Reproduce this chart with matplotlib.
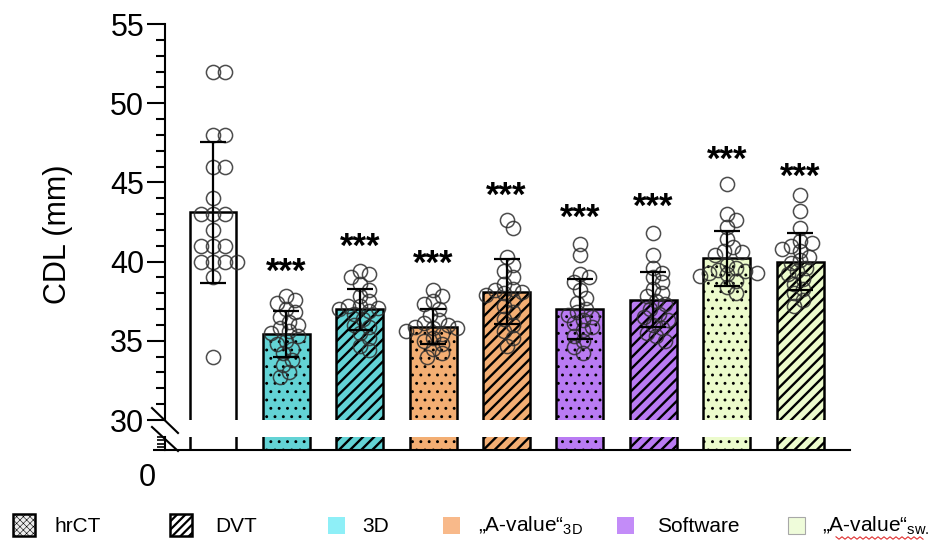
import numpy as np
import matplotlib
matplotlib.use('Agg')
import matplotlib.pyplot as plt
from matplotlib.patches import Rectangle
from matplotlib.lines import Line2D

plt.rcParams['font.family'] = ['Liberation Sans', 'DejaVu Sans']
plt.rcParams['mathtext.fontset'] = 'custom'
plt.rcParams['mathtext.rm'] = 'Liberation Sans'

# ---------------- data ----------------
groups = ['hrCT', '3D hrCT', '3D DVT', 'A3D hrCT', 'A3D DVT',
          'SW hrCT', 'SW DVT', 'Asw hrCT', 'Asw DVT']
means = [43.1, 35.4, 37.0, 35.9, 38.1, 37.0, 37.6, 40.2, 40.0]
sds = [4.45, 1.45, 1.3, 1.1, 2.05, 1.9, 1.75, 1.75, 1.8]
points = [
    [52, 52, 48, 48, 46, 46, 44, 43, 43, 43, 42, 41, 41, 41, 40, 40, 40, 40, 39, 34],
    [37.8, 37.6, 37.4, 37.0, 36.8, 36.5, 36.2, 36.0, 35.8, 35.6, 35.5, 35.3, 35.0, 34.8, 34.5, 34.2, 33.8, 33.5, 33.0, 32.7],
    [39.4, 39.2, 39.0, 38.6, 38.2, 37.8, 37.5, 37.2, 37.2, 37.1, 37.0, 36.9, 36.7, 36.4, 36.0, 35.9, 35.5, 35.2, 34.7, 34.4],
    [38.2, 37.8, 37.5, 37.3, 37.0, 36.6, 36.3, 36.1, 36.0, 35.9, 35.8, 35.8, 35.6, 35.4, 35.2, 35.0, 34.8, 34.5, 34.2, 34.0],
    [42.6, 42.1, 40.3, 39.8, 39.4, 39.0, 38.6, 38.3, 38.2, 38.1, 38.0, 37.9, 37.6, 37.2, 36.8, 36.4, 36.0, 35.6, 35.2, 34.7],
    [41.1, 40.4, 39.2, 39.0, 38.7, 38.2, 37.7, 37.4, 37.0, 36.8, 36.6, 36.5, 36.3, 36.1, 35.9, 35.7, 35.3, 35.0, 34.6, 34.2],
    [41.8, 40.4, 39.6, 39.3, 39.0, 38.7, 38.3, 38.0, 37.8, 37.5, 37.3, 37.0, 36.7, 36.5, 36.3, 36.0, 35.8, 35.5, 35.3, 35.0],
    [44.9, 43.0, 42.6, 42.2, 41.4, 40.9, 40.7, 40.6, 40.4, 39.8, 39.6, 39.5, 39.4, 39.3, 39.3, 39.2, 39.1, 38.8, 38.4, 38.0],
    [44.2, 43.2, 42.1, 41.3, 41.2, 41.0, 40.8, 40.7, 40.3, 40.1, 39.9, 39.6, 39.4, 39.2, 38.9, 38.6, 38.3, 38.0, 37.6, 37.2],
]
stars = ['', '***', '***', '***', '***', '***', '***', '***', '***']
star_y = [0, 39.3, 40.9, 39.8, 44.1, 42.75, 43.4, 46.4, 45.3]
yticks_major = [30, 35, 40, 45, 50, 55]
legend_labels = ['hrCT', 'DVT', '3D', '„A-value“$_{\\mathrm{3D}}$',
                 'Software', '„A-value“$_{\\mathrm{sw.}}$']

# ---------------- style ----------------
CYAN, ORANGE, PURPLE, GREEN = '#63d3d5', '#f3ae73', '#b97bf3', '#ecfbcc'
bar_colors = ['white', CYAN, CYAN, ORANGE, ORANGE, PURPLE, PURPLE, GREEN, GREEN]
bar_hatch = [None, '..', '///', '..', '///', '..', '///', '..', '///']

W, H = 932, 540
fig = plt.figure(figsize=(W / 100, H / 100), dpi=100)

def fx(px):
    return px / W

def fy(py):
    return 1 - py / H

ax = fig.add_axes([fx(165), fy(420), fx(850) - fx(165), fy(24) - fy(420)])
axl = fig.add_axes([fx(165), fy(450), fx(850) - fx(165), fy(437) - fy(450)])

x = np.arange(len(groups))
bw = 0.64
for a in (ax, axl):
    for i in range(len(groups)):
        h = bar_hatch[i]
        hl = 0.9 if h == '..' else 1.7
        with plt.rc_context({'hatch.linewidth': hl, 'hatch.color': 'black'}):
            b = a.bar(x[i], means[i], width=bw, color=bar_colors[i],
                      edgecolor='black', linewidth=1.8, hatch=h, zorder=1)
        for p in b.patches:
            if hasattr(p, 'set_hatch_linewidth'):
                p.set_hatch_linewidth(hl)
    a.set_xlim(-0.654, 8.68)
    a.set_xticks([])
    for s in ('top', 'right'):
        a.spines[s].set_visible(False)
    a.spines['left'].set_linewidth(1.5)

ax.set_ylim(30, 55)
ax.spines['bottom'].set_visible(False)
ax.set_yticks(yticks_major)
ax.set_yticks(np.arange(30, 56, 1), minor=True)
ax.tick_params(axis='y', which='major', length=13, width=1.5, labelsize=22, pad=2)
ax.tick_params(axis='y', which='minor', length=6.5, width=1.5)

axl.set_ylim(0, 4)
axl.spines['bottom'].set_linewidth(1.5)
axl.set_yticks([0])
axl.set_yticklabels([])
axl.set_yticks([1, 2, 3, 4], minor=True)
axl.tick_params(axis='y', which='major', length=9, width=1.5)
axl.tick_params(axis='y', which='minor', length=6, width=1.2)

# scatter points (beeswarm placement)
fig.canvas.draw()
p0 = ax.transData.transform((0, 30))
p1 = ax.transData.transform((1, 31))
sx, sy = p1[0] - p0[0], p1[1] - p0[1]

def swarm(vals, xc, d=9.5, step=3.0):
    placed = []
    xs = []
    for v in vals:
        yy = v * sy
        cands = [0.0]
        for k in range(1, 30):
            cands += [k * step, -k * step]
        for c in cands:
            if all((c - px) ** 2 + (yy - py) ** 2 >= d * d for px, py in placed):
                break
        placed.append((c, yy))
        xs.append(xc + c / sx)
    return np.array(xs)

for i in range(len(groups)):
    xs = swarm(points[i], x[i])
    ax.plot(xs, points[i], linestyle='none', marker='o', markersize=10.2,
            markerfacecolor='none', markeredgecolor=(0.18, 0.18, 0.18, 0.85),
            markeredgewidth=1.1, zorder=3, clip_on=False)

ax.errorbar(x, means, yerr=sds, fmt='none', ecolor='black', elinewidth=1.6,
            capsize=9.5, capthick=1.6, zorder=5)

for i in range(len(groups)):
    if stars[i]:
        ax.text(x[i], star_y[i], stars[i], ha='center', va='center',
                fontsize=25, fontweight='bold', zorder=6)

# axis break marks
for (xa, ya, xb, yb) in [(152, 408, 178, 433), (152, 427, 178, 451)]:
    fig.add_artist(Line2D([fx(xa), fx(xb)], [fy(ya), fy(yb)], color='black', lw=1.5))

fig.text(fx(147), fy(478), '0', ha='center', va='center', fontsize=22)
fig.text(fx(58), fy(234), 'CDL (mm)', rotation=90, ha='center', va='center', fontsize=22)

# legend
sw_cx = [24, 181, 336, 451, 625, 796]
tx = [55, 215, 362, 478, 657, 822]
sw_face = ['#ececec', 'white', '#8eeff7', '#f8b98a', '#c38cf8', '#effcda']
sw_edge = ['black', 'black', '#8eeff7', '#f8b98a', '#c38cf8', '#a8a8a8']
sw_size = [22, 22, 17, 17, 17, 17]
sw_lw = [1.8, 1.8, 0, 0, 0, 0.8]
sw_hatch = ['xxxxx', '////', None, None, None, None]
for i in range(6):
    s = sw_size[i]
    hlw = 1.6 if i == 1 else 0.4
    with plt.rc_context({'hatch.linewidth': hlw,
                         'hatch.color': 'black' if i == 1 else '#b4b4b4'}):
        r = Rectangle((fx(sw_cx[i] - s / 2), fy(525 + s / 2)), fx(s), s / H,
                      transform=fig.transFigure, facecolor=sw_face[i],
                      edgecolor=sw_edge[i], linewidth=sw_lw[i], hatch=sw_hatch[i])
    if sw_hatch[i] is not None and hasattr(r, 'set_hatch_linewidth'):
        r.set_hatch_linewidth(hlw)
    fig.add_artist(r)
    fig.text(fx(tx[i]), fy(526), legend_labels[i], ha='left', va='center', fontsize=15)

# red spell-check squiggle under the last legend label
zx = np.arange(836, 926, 3.0)
zy = 538 + np.where(np.arange(len(zx)) % 2 == 0, -1.2, 1.2)
fig.add_artist(Line2D(fx(zx), fy(zy), color='#e03030', lw=0.8))

fig.savefig('out.png', dpi=100)
